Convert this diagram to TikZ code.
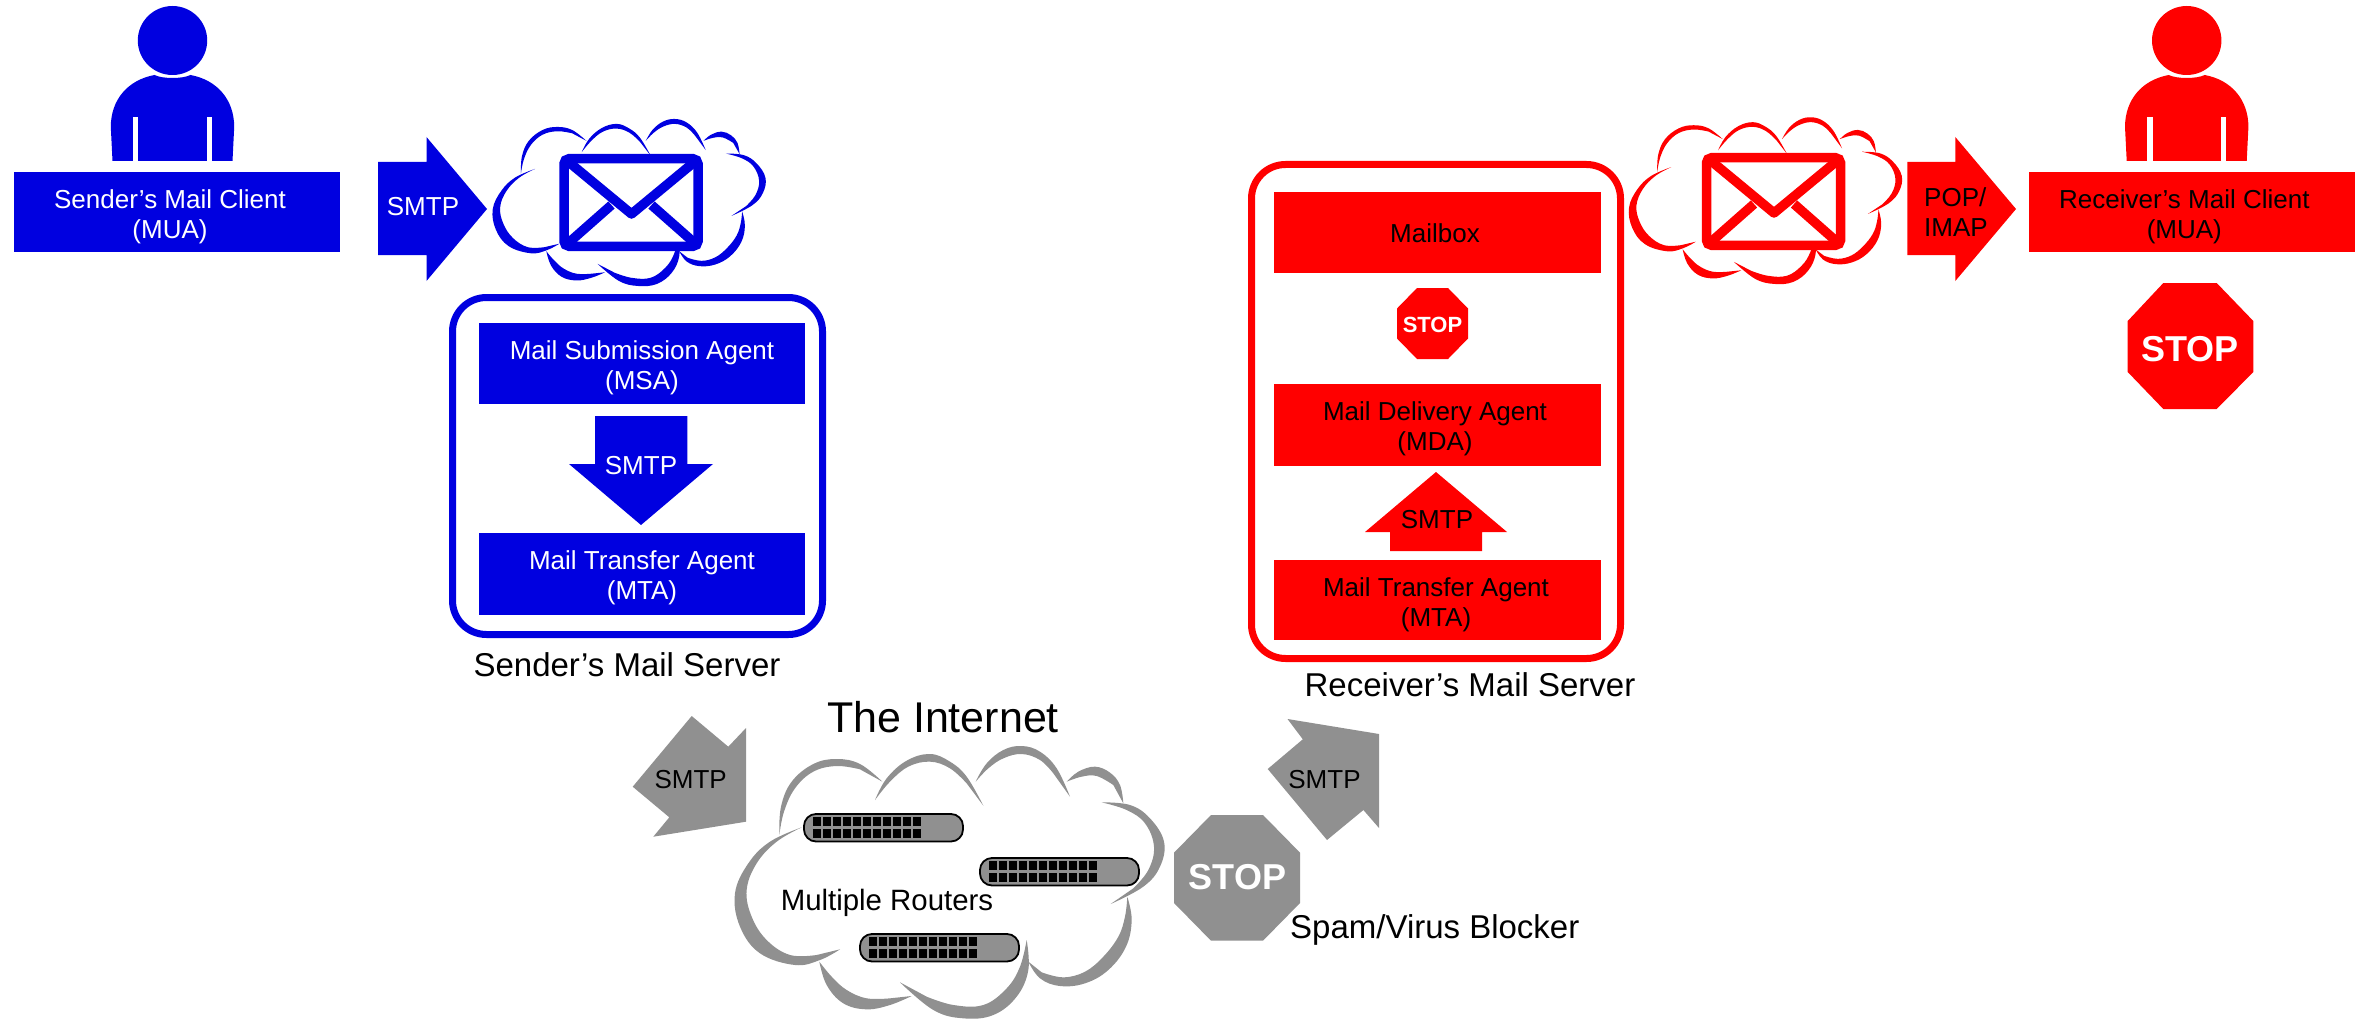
\documentclass[tikz,border=0pt]{standalone}
\usepackage{fontspec}
\setmainfont{Liberation Sans}
\newcommand{\crescent}[2]{\fill plot[smooth,tension=.65] coordinates {#1} -- plot[smooth,tension=.65] coordinates {#2} -- cycle;}
\newcommand{\cloudshape}{%
\crescent{(178,285)(183,200)(215,125)(280,72)(350,57)(420,72)(487,125)}{(420,88)(350,78)(280,95)(225,145)(192,215)(178,285)}
\crescent{(465,180)(500,115)(560,62)(630,42)(690,65)(740,110)(790,197)}{(740,130)(690,85)(630,65)(565,80)(510,125)(465,180)}
\crescent{(767,125)(800,70)(850,30)(905,18)(960,35)(1010,85)(1050,170)}{(1000,100)(960,60)(905,42)(850,55)(805,85)(767,125)}
\crescent{(1040,125)(1075,95)(1125,80)(1170,98)(1200,135)(1210,190)}{(1180,135)(1130,108)(1085,110)(1040,125)}
\crescent{(1145,187)(1230,195)(1290,235)(1332,305)(1320,380)(1270,440)(1172,492)}{(1240,445)(1285,390)(1302,320)(1275,250)(1220,210)(1145,187)}
\crescent{(1222,470)(1235,540)(1218,620)(1165,690)(1095,730)(1020,738)(960,715)(925,665)}{(965,697)(1030,712)(1095,695)(1150,650)(1195,590)(1215,530)(1222,470)}
\crescent{(920,600)(925,690)(890,770)(820,825)(730,835)(640,810)(540,727)}{(620,770)(700,795)(790,795)(860,745)(900,680)(920,600)}
\crescent{(298,665)(320,735)(370,790)(440,808)(510,795)(575,768)}{(510,775)(440,775)(380,750)(335,710)(298,665)}
\crescent{(245,262)(150,305)(85,370)(45,460)(60,560)(120,640)(225,675)(300,660)(360,628)}{(290,645)(210,645)(140,600)(95,530)(80,450)(110,370)(170,305)(245,262)}
}
% person: #1 colour, #2 centre x
\newcommand{\person}[2]{%
\begin{scope}[shift={(#2,0)}]
\fill[#1] (0,40.5) ellipse [x radius=34.7, y radius=34.5];
\fill[#1] (-60,161) -- (-61.7,127) .. controls (-61.7,100) and (-45,80) .. (-18,75) .. controls (-10,79) and (10,79) .. (18,75) .. controls (45,80) and (61.7,100) .. (61.7,127) -- (60,161) -- cycle;
\fill[white] (-39.5,117) rectangle (-34.2,162);
\fill[white] (34.2,117) rectangle (39.5,162);
\end{scope}}
% envelope: #1 colour, #2 left, #3 top
\newcommand{\envelope}[3]{%
\begin{scope}[shift={(#2,#3)}]
\draw[#1,line width=9.5pt,fill=white,rounded corners=5pt] (5,4.75) rectangle (139,92.25);
\draw[#1,line width=9.5pt,line join=round] (6,5) -- (72.5,60) -- (139,5);
\draw[#1,line width=9.5pt] (6,92) -- (52.5,51);
\draw[#1,line width=9.5pt] (139,92) -- (92.5,51);
\end{scope}}
% router: #1 left, #2 top
\newcommand{\router}[2]{%
\begin{scope}[shift={(#1,#2)}]
\draw[black,line width=1.8pt,fill=midgrey,rounded corners=12pt] (1,1) rectangle (160,28.5);
\foreach \i in {0,...,10}{
\fill[black] (9.5+\i*10.05,3.8) rectangle ++(8.3,8.8);
\fill[black] (9.5+\i*10.05,16.2) rectangle ++(8.3,8.8);
}
\end{scope}}
\definecolor{mblue}{RGB}{0,0,224}
\definecolor{mred}{RGB}{255,0,0}
\definecolor{midgrey}{RGB}{144,144,144}
\tikzset{
 bluebox/.style={fill=mblue,draw=none,inner sep=0pt,anchor=north west},
 redbox/.style={fill=mred,draw=none,inner sep=0pt,anchor=north west},
 txt/.style={inner sep=0pt,align=center,font=\fontsize{26}{30}\selectfont},
 basetxt/.style={inner sep=0pt,anchor=base,font=\fontsize{#1}{#1}\selectfont},
 basetxt/.default=26,
 serverframe/.style={line width=7pt,rounded corners=34pt}
}
\begin{document}
\begin{tikzpicture}[x=1pt,y=-1pt]
\useasboundingbox (0,0) rectangle (2361,1019);
\fill[white] (0,0) rectangle (2361,1019);

% ---- sender client
\person{mblue}{172.5}
\node[bluebox,minimum width=326pt,minimum height=80pt] (sclient) at (14,172) {};
\node[txt,white] (sclienttxt) at (170,216.3) {Sender’s Mail Client\\(MUA)};
\fill[mblue] (378,162) -- (426.5,162) -- (426.5,137) -- (487,209) -- (426.5,281) -- (426.5,255) -- (378,255) -- cycle;
\node[basetxt,white] (ssmtp) at (423,216) {SMTP};

% ---- sender cloud
\begin{scope}[shift={(483.2,115.3)},xscale=.2119,yscale=.2044,fill=mblue]
\cloudshape
\end{scope}
\envelope{mblue}{559}{154}

% ---- sender server
\draw[mblue,serverframe] (452.5,297.5) rectangle (822.5,634.5);
\node[bluebox,minimum width=326pt,minimum height=81pt] (msa) at (479,323) {};
\node[txt,white] (msatxt) at (642,368) {Mail Submission Agent\\(MSA)};
\fill[mblue] (595,416) -- (687.3,416) -- (687.3,464) -- (713,464) -- (641,525) -- (569,464) -- (595,464) -- cycle;
\node[basetxt,white] (msmtp) at (641,474) {SMTP};
\node[bluebox,minimum width=326pt,minimum height=82pt] (smta) at (479,533) {};
\node[txt,white] (smtatxt) at (642,578) {Mail Transfer Agent\\(MTA)};
\node[basetxt=33] (sserver) at (627,676) {Sender’s Mail Server};

% ---- internet
\begin{scope}[shift={(720,740)},scale=1/3,fill=midgrey]
\cloudshape
\end{scope}
\router{803}{813}
\router{979}{857}
\router{859}{933}
\node[basetxt=43] (internet) at (943,732) {The Internet};
\node[basetxt=29.4] (routers) at (887,910) {Multiple Routers};

\fill[midgrey] (632.7,786.7) -- (691.7,716) -- (728.3,746.7) -- (746,728) -- (746,821.7) -- (653.3,836.7) -- (669.3,817.3) -- cycle;
\node[basetxt] (gsmtp1) at (690.7,788) {SMTP};
\fill[midgrey] (1287.5,719) -- (1379,734) -- (1379,828) -- (1363.4,810) -- (1327,840) -- (1267.7,769) -- (1302.8,739.3) -- cycle;
\node[basetxt] (gsmtp2) at (1324.5,788) {SMTP};

\fill[midgrey] (1211,815) -- (1263,815) -- (1300,852.7) -- (1300,903) -- (1263,940.7) -- (1211,940.7) -- (1174,903) -- (1174,852.7) -- cycle;
\node[basetxt=36,white,font=\fontsize{36}{36}\selectfont\bfseries] (gstop) at (1237.5,889) {STOP};
\node[basetxt=33,anchor=base west] (spam) at (1290,938) {Spam/Virus Blocker};

% ---- receiver server
\draw[mred,serverframe] (1251.5,164.5) rectangle (1620.5,658.5);
\node[redbox,minimum width=327pt,minimum height=81pt] (mailbox) at (1274,192) {};
\node[basetxt] (mailboxtxt) at (1435,242) {Mailbox};
\fill[mred] (1417,288) -- (1448,288) -- (1468,308.5) -- (1468,338.5) -- (1448,359) -- (1417,359) -- (1397,338.5) -- (1397,308.5) -- cycle;
\node[basetxt=22,white,font=\fontsize{22}{22}\selectfont\bfseries] (sstop) at (1432.5,332) {STOP};
\node[redbox,minimum width=327pt,minimum height=82pt] (mda) at (1274,384) {};
\node[txt] (mdatxt) at (1435,428.7) {Mail Delivery Agent\\(MDA)};
\fill[mred] (1436,472) -- (1507,532) -- (1482,532) -- (1482,551) -- (1390,551) -- (1390,532) -- (1365,532) -- cycle;
\node[basetxt] (rsmtp) at (1437,528) {SMTP};
\node[redbox,minimum width=327pt,minimum height=80pt] (rmta) at (1274,560) {};
\node[txt] (rmtatxt) at (1436,604.3) {Mail Transfer Agent\\(MTA)};
\node[basetxt=33] (rserver) at (1470,696) {Receiver’s Mail Server};

% ---- receiver cloud
\begin{scope}[shift={(1619.5,113.6)},xscale=.2119,yscale=.204,fill=mred]
\cloudshape
\end{scope}
\envelope{mred}{1701.5}{153}

% ---- receiver client
\fill[mred] (1907.3,162) -- (1955.3,162) -- (1955.3,137) -- (2016,209) -- (1955.3,281) -- (1955.3,255) -- (1907.3,255) -- cycle;
\node[txt,align=left] (pop) at (1956,211.8) {POP/\\IMAP};
\person{mred}{2186.7}
\node[redbox,minimum width=326pt,minimum height=80pt] (rclient) at (2028.3,172) {};
\node[txt] (rclienttxt) at (2184.3,216.3) {Receiver’s Mail Client\\(MUA)};
\fill[mred] (2163.3,283) -- (2216.7,283) -- (2253.3,321) -- (2253.3,372) -- (2216.7,409) -- (2163.3,409) -- (2127.7,372) -- (2127.7,321) -- cycle;
\node[basetxt=36,white,font=\fontsize{36}{36}\selectfont\bfseries] (bstop) at (2190,361) {STOP};
\end{tikzpicture}
\end{document}
